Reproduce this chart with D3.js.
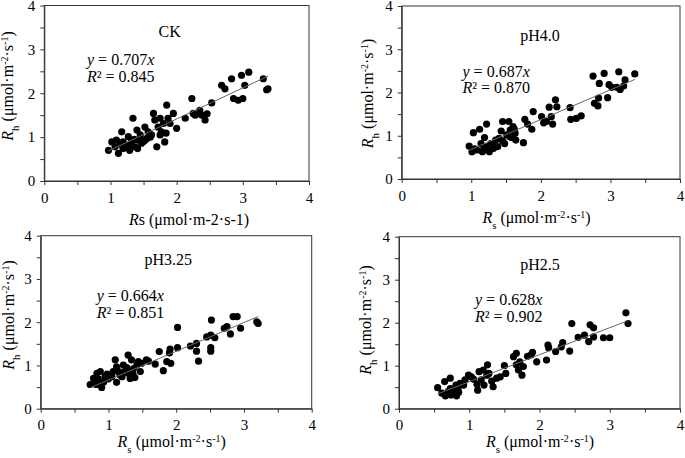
<!DOCTYPE html>
<html><head><meta charset="utf-8">
<script src="https://cdn.jsdelivr.net/npm/d3@7"></script>
<style>
html,body{margin:0;padding:0;background:#fff;}
svg{display:block;}
text{font-family:"Liberation Serif","Times New Roman",serif;fill:#000;}
</style></head>
<body>
<svg id="chart" width="685" height="458"></svg>
<script>
// ---------- data ----------
const panelNames = ["CK", "pH4.0", "pH3.25", "pH2.5"];
const slopes = [0.707, 0.687, 0.664, 0.628];
const r2Values = ["0.845", "0.870", "0.851", "0.902"];
const tickValues = [0, 0.5, 1, 1.5, 2, 2.5, 3, 3.5, 4];

const ckRs = [0.97,1.02,1.07,1.12,1.09,1.17,1.19,1.19,1.24,1.27,1.29,1.32,1.34,1.37,1.40,1.42,1.45,1.47,1.52,1.55,1.57,1.52,1.65,1.67,1.70,1.72,1.75,1.77,1.80,1.82,1.85,1.87,1.90,1.95,2.00,2.13,2.23,2.25,2.28,2.35,2.38,2.43,2.53,2.68,2.73,2.83,2.86,2.93,2.98,3.00,3.03,3.09,3.31,3.36,3.38,
  1.15,1.22,1.36,1.41,1.50,1.60,1.75,1.84,1.62,1.27,2.46];
const ckRh = [0.70,0.89,0.78,0.63,0.93,1.12,0.89,0.74,0.82,1.01,0.70,0.89,1.43,0.78,1.16,0.93,1.05,0.86,1.23,0.97,1.12,0.93,1.54,1.39,0.78,1.23,1.43,1.12,1.31,0.89,1.73,1.43,1.31,1.54,1.20,1.43,1.88,1.54,1.50,1.61,1.50,1.39,1.78,2.18,2.10,2.33,1.88,1.84,2.41,1.88,2.18,2.48,2.33,2.08,2.10,
  0.84,0.76,0.95,0.74,0.90,1.00,1.05,1.09,1.05,0.78,1.53];

const ph40Rs = [0.97,1.01,1.03,1.08,1.12,1.14,1.16,1.19,1.22,1.22,1.26,1.28,1.32,1.35,1.38,1.40,1.43,1.45,1.48,1.51,1.54,1.56,1.58,1.60,1.63,1.64,1.75,1.77,1.81,1.87,1.89,2.01,2.04,2.08,2.12,2.15,2.17,2.21,2.23,2.42,2.43,2.51,2.58,2.75,2.77,2.83,2.84,2.82,2.91,2.96,2.98,3.02,3.09,3.12,3.14,3.19,3.21,3.35,
  1.05,1.18,1.30,1.25,1.45,1.55,1.62];
const ph40Rh = [0.76,0.63,1.07,0.67,1.15,0.82,0.63,0.96,1.27,0.75,0.63,0.82,0.71,0.90,0.75,0.94,1.11,1.33,0.82,1.02,1.33,1.13,0.96,1.21,1.06,0.90,0.84,1.38,1.27,1.15,1.56,1.44,1.30,1.33,1.66,1.44,1.27,1.83,1.67,1.65,1.38,1.40,1.46,2.38,1.75,1.87,2.21,1.69,2.44,1.88,2.18,2.12,2.12,2.48,2.07,2.15,2.29,2.43,
  0.70,0.70,0.80,0.68,0.88,0.98,1.15];

const ph325Rs = [0.73,0.78,0.83,0.82,0.85,0.88,0.90,0.93,0.95,1.00,1.05,1.07,1.10,1.12,1.12,1.15,1.20,1.22,1.24,1.29,1.29,1.32,1.34,1.37,1.39,1.42,1.44,1.47,1.49,1.56,1.59,1.69,1.75,1.81,1.86,1.90,1.91,1.92,2.02,2.02,2.21,2.30,2.30,2.33,2.45,2.51,2.51,2.51,2.52,2.57,2.71,2.75,2.80,2.84,2.90,2.95,3.19,3.21,
  0.80,0.87,0.98,1.17,1.27,1.36];
const ph325Rh = [0.56,0.70,0.82,0.56,0.69,0.86,0.49,0.62,0.74,0.69,0.74,0.86,1.13,0.97,0.61,0.86,0.74,1.01,0.86,1.24,0.82,0.70,1.13,0.93,0.72,1.01,1.09,0.86,1.05,1.13,1.10,1.03,1.32,0.88,1.09,1.29,1.38,1.05,1.88,1.41,1.45,1.51,1.33,1.10,1.66,1.70,1.41,1.33,2.05,1.64,1.86,1.90,1.73,2.13,2.13,1.86,2.01,1.97,
  0.62,0.60,0.80,0.78,0.95,0.82];

const ph25Rs = [0.55,0.61,0.65,0.66,0.73,0.73,0.74,0.79,0.81,0.82,0.84,0.87,0.92,0.94,0.99,1.03,1.06,1.11,1.12,1.14,1.17,1.20,1.21,1.25,1.26,1.28,1.32,1.34,1.39,1.44,1.50,1.52,1.63,1.67,1.67,1.70,1.72,1.75,1.77,1.83,1.88,1.90,1.96,2.10,2.12,2.13,2.23,2.31,2.33,2.43,2.46,2.55,2.64,2.70,2.72,2.77,2.77,2.91,3.00,3.23,3.26,
  0.70,0.77,0.85];
const ph25Rh = [0.49,0.36,0.63,0.30,0.71,0.47,0.32,0.40,0.55,0.30,0.47,0.59,0.55,0.67,0.78,0.74,0.69,0.57,0.43,0.86,0.67,0.90,0.55,0.78,1.02,0.82,0.64,0.51,0.71,0.74,1.00,0.82,1.21,1.29,1.02,0.90,1.09,0.78,0.98,1.22,1.25,1.31,1.09,1.13,1.48,1.42,1.33,1.44,1.54,1.34,1.98,1.66,1.71,1.56,1.95,1.88,1.67,1.65,1.65,2.23,1.98,
  0.40,0.36,0.38];

const panelRs = [ckRs, ph40Rs, ph325Rs, ph25Rs];
const panelRh = [ckRh, ph40Rh, ph325Rh, ph25Rh];

// ---------- layout ----------
const layout = [
  {x0:44.3, x1:309, yb:181, yt:5.5,
   title:[169.7,37.3], eq:[87,65,82.3], xlab:[189,224.5], ylab:[12.5,86], plainX:true},
  {x0:401.7, x1:680, yb:179, yt:6,
   title:[540,40.7], eq:[462.5,77.3,92.7], xlab:[536.5,222.5], ylab:[373,93.5]},
  {x0:40.7, x1:311.7, yb:408.7, yt:235.7,
   title:[168.3,265], eq:[96.7,301,317.7], xlab:[171.7,447], ylab:[14,315]},
  {x0:399, x1:680, yb:408.7, yt:236.7,
   title:[540,270], eq:[475,305,321.7], xlab:[540,447], ylab:[371,320]}
];

const svg = d3.select("#chart");
const axisColor = "#333";

function addUnit(t, supSize){
  t.append("tspan").text(" (μmol·m");
  t.append("tspan").attr("font-size", supSize).attr("baseline-shift","super").text("-2");
  t.append("tspan").text("·s");
  t.append("tspan").attr("font-size", supSize).attr("baseline-shift","super").text("-1");
  t.append("tspan").text(")");
}

layout.forEach((L, i) => {
  const x = d3.scaleLinear().domain([0,4]).range([L.x0, L.x1]);
  const y = d3.scaleLinear().domain([0,4]).range([L.yb, L.yt]);
  const g = svg.append("g");

  // frame
  g.append("rect")
    .attr("x", x(0)).attr("y", y(4))
    .attr("width", x(4)-x(0)).attr("height", y(0)-y(4))
    .attr("fill","none").attr("stroke",axisColor).attr("stroke-width",1);

  const fmt = d => Number.isInteger(d) ? d : "";
  const xa = g.append("g").attr("transform",`translate(0,${y(0)})`)
    .call(d3.axisBottom(x).tickValues(tickValues).tickSize(4).tickSizeOuter(0).tickPadding(7).tickFormat(fmt));
  const ya = g.append("g").attr("transform",`translate(${x(0)},0)`)
    .call(d3.axisLeft(y).tickValues(tickValues).tickSize(4).tickSizeOuter(0).tickPadding(5).tickFormat(fmt));
  [xa, ya].forEach(a => {
    a.select(".domain").attr("stroke",axisColor);
    a.selectAll(".tick line").attr("stroke",axisColor);
    a.selectAll(".tick text").attr("font-family",'"Liberation Serif","Times New Roman",serif')
      .attr("font-size",15).attr("fill","#000");
  });

  // points
  const rs = panelRs[i], rh = panelRh[i];
  g.append("g").selectAll("circle").data(rs.map((v,k)=>[v, rh[k]])).join("circle")
    .attr("cx", d => x(d[0])).attr("cy", d => y(d[1])).attr("r", 3.6).attr("fill","#000");

  // regression line
  const ext = d3.extent(rs);
  g.append("line")
    .attr("x1", x(ext[0])).attr("y1", y(slopes[i]*ext[0]))
    .attr("x2", x(ext[1])).attr("y2", y(slopes[i]*ext[1]))
    .attr("stroke","#666").attr("stroke-width",1);

  // title
  g.append("text").attr("x", L.title[0]).attr("y", L.title[1])
    .attr("text-anchor","middle").attr("font-size",16).text(panelNames[i]);

  // equation
  const e1 = g.append("text").attr("x", L.eq[0]).attr("y", L.eq[1]).attr("font-size",16);
  e1.append("tspan").attr("font-style","italic").text("y");
  e1.append("tspan").text(" = " + slopes[i].toFixed(3));
  e1.append("tspan").attr("font-style","italic").text("x");
  const e2 = g.append("text").attr("x", L.eq[0]).attr("y", L.eq[2]).attr("font-size",16);
  e2.append("tspan").attr("font-style","italic").text("R");
  e2.append("tspan").text("² = " + r2Values[i]);

  // x label
  const xl = g.append("text").attr("x", L.xlab[0]).attr("y", L.xlab[1])
    .attr("text-anchor","middle").attr("font-size",16);
  if (L.plainX) {
    xl.append("tspan").attr("font-style","italic").text("R");
    xl.append("tspan").text("s (μmol·m-2·s-1)");
  } else {
    xl.append("tspan").attr("font-style","italic").text("R");
    xl.append("tspan").attr("font-size",11).attr("baseline-shift","sub").text("s");
    addUnit(xl, 10);
  }

  // y label
  const yl = g.append("text")
    .attr("transform", `translate(${L.ylab[0]},${L.ylab[1]}) rotate(-90)`)
    .attr("text-anchor","middle").attr("font-size",16);
  yl.append("tspan").attr("font-style","italic").text("R");
  yl.append("tspan").attr("font-size",11).attr("baseline-shift","sub").text("h");
  addUnit(yl, 10);
});
</script>
</body></html>
